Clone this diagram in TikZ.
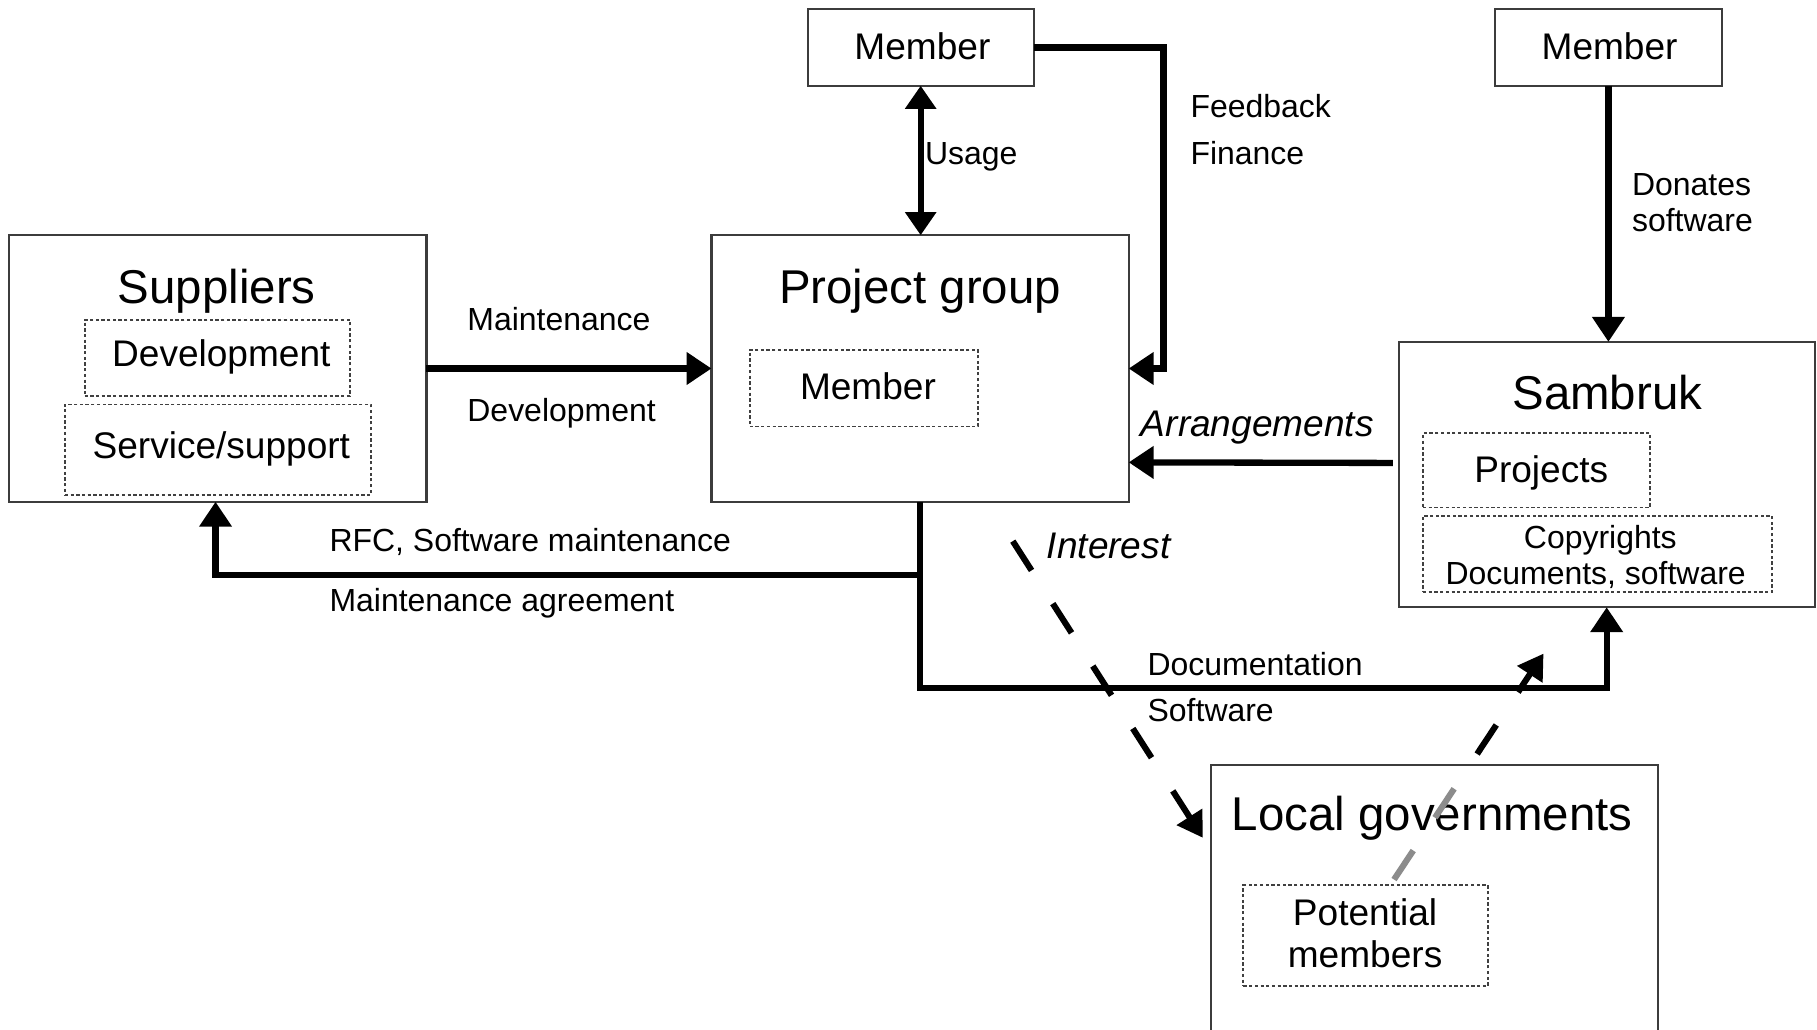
\documentclass[tikz,border=0pt]{standalone}
\usepackage{fontspec}
\setmainfont{Liberation Sans}
\usetikzlibrary{arrows.meta,calc,fit}
\definecolor{boxgray}{HTML}{3C3C3C}
\definecolor{dotgray}{HTML}{404040}
\definecolor{linkgray}{HTML}{8C8C8C}
\begin{document}
\begin{tikzpicture}[x=0.02cm,y=-0.02cm,
  box/.style={draw=boxgray,line width=1.1pt,inner sep=0pt,outer sep=0pt,rectangle},
  dbox/.style={draw=dotgray,line width=0.9pt,dash pattern=on 1.6pt off 1.2pt,inner sep=0pt,outer sep=0pt,rectangle},
  ttl/.style={font=\fontsize{23.3pt}{27pt}\selectfont,inner sep=0pt,anchor=base},
  inr/.style={font=\fontsize{18.2pt}{21pt}\selectfont,inner sep=0pt,anchor=base},
  lab/.style={font=\fontsize{15.7pt}{18pt}\selectfont,inner sep=0pt,anchor=base west},
  flow/.style={line width=3.1pt,line join=miter,-{Triangle[length=0.43cm,width=0.54cm]}},
  flowtwo/.style={line width=3.1pt,{Triangle[length=0.4cm,width=0.52cm]}-{Triangle[length=0.4cm,width=0.52cm]}},
  intr/.style={line width=3pt,dash pattern=on 0.6cm off 0.68cm},
  tipped/.style={-{Triangle[length=0.43cm,width=0.5cm]}},
]
\clip (0,0) rectangle (1568,888);
\fill[white] (0,0) rectangle (1568,888);

% boxes
\node[box,fit={(697,8)(892,74)}] (m1) {};
\node[box,fit={(1290,8)(1486,74)}] (m2) {};
\node[box,fit={(8,203)(368,433)}] (sup) {};
\node[dbox,fit={(73,276)(302,342)}] (supdev) {};
\node[dbox,fit={(56,349)(320,427)}] (supserv) {};
\node[box,fit={(614,203)(974,433)}] (pg) {};
\node[dbox,fit={(647,302)(844,368)}] (pgmem) {};
\node[box,fit={(1207,295)(1566,524)}] (sam) {};
\node[dbox,fit={(1228,374)(1424,438)}] (samproj) {};
\node[dbox,fit={(1228,445)(1529,511)}] (samcopy) {};
\node[box,fit={(1045,660)(1431,920)}] (lg) {};
\node[dbox,fit={(1073,764)(1284,851)}] (pm) {};

% box texts
\node[inr] (tm1) at (796,51) {Member};
\node[inr] (tm2) at (1389,51) {Member};
\node[ttl] (tsup) at (187,262) {Suppliers};
\node[inr] (tsupdev) at (191,316) {Development};
\node[inr] (tsupserv) at (191,396) {Service/support};
\node[ttl] (tpg) at (794,262) {Project group};
\node[inr] (tpgmem) at (749,345) {Member};
\node[ttl] (tsam) at (1387,353) {Sambruk};
\node[inr] (tproj) at (1330,416) {Projects};
\node[lab,anchor=base] (tcopy) at (1381,473) {Copyrights};
\node[lab,anchor=base] (tdocs) at (1377,504) {Documents, software};
\node[ttl] (tlg) at (1236,717) {Local governments};
\node[inr] (tpot) at (1178,799) {Potential};
\node[inr] (tmems) at (1178,835) {members};

% labels
\node[lab] (lusage) at (798,142) {Usage};
\node[lab] (lfeed) at (1027,101) {Feedback};
\node[lab] (lfin) at (1027,142) {Finance};
\node[lab] (ldon) at (1408,169) {Donates};
\node[lab] (lsoft) at (1408,200) {software};
\node[lab] (lmaint) at (403,285) {Maintenance};
\node[lab] (ldev) at (403,364) {Development};
\node[inr,font=\fontsize{18.2pt}{21pt}\selectfont\itshape] (larr) at (1085,377) {Arrangements};
\node[inr,anchor=base west,font=\fontsize{18.2pt}{21pt}\selectfont\itshape] (lint) at (903,482) {Interest};
\node[lab] (lrfc) at (284,476) {RFC, Software maintenance};
\node[lab] (lma) at (284,528) {Maintenance agreement};
\node[lab] (ldoc) at (990,583) {Documentation};
\node[lab] (lsw) at (990,623) {Software};

% connectors
\draw[flowtwo] (m1.south) -- (m1.south |- pg.north);
\draw[flow] (m1.east) -| ($(pg.east)+(30,0)$) -- (pg.east);
\draw[flow] (m2.south) -- (m2.south |- sam.north);
\draw[flow] (sup.east) -- (pg.west);
\draw[flow] ($(sam.west)+(-5,-10)$) -- ($(pg.east)+(0,81)$);
\coordinate (jn) at ($(pg.south)+(0,63)$);
\draw[flow] (pg.south) -- (jn) -| ($(sup.south)+(-2,0)$);
\draw[flow] (jn) -- ++(0,98) -| (sam.south);

% interest (dashed)
\coordinate (iS) at (874,467);
\coordinate (iE) at (1038,723);
\draw[intr,tipped] (iS) -- (iE);

% potential members -> Sambruk (dashed, grey inside the box)
\coordinate (pS) at (1203,759);
\coordinate (pT) at (1332,564);
\coordinate (pX) at ($(pS)!0.5077!(pT)$);
\draw[intr,draw=linkgray] (pS) -- (pX);
\draw[intr,dash phase=1.056cm,tipped] (pX) -- (pT);
\end{tikzpicture}
\end{document}
